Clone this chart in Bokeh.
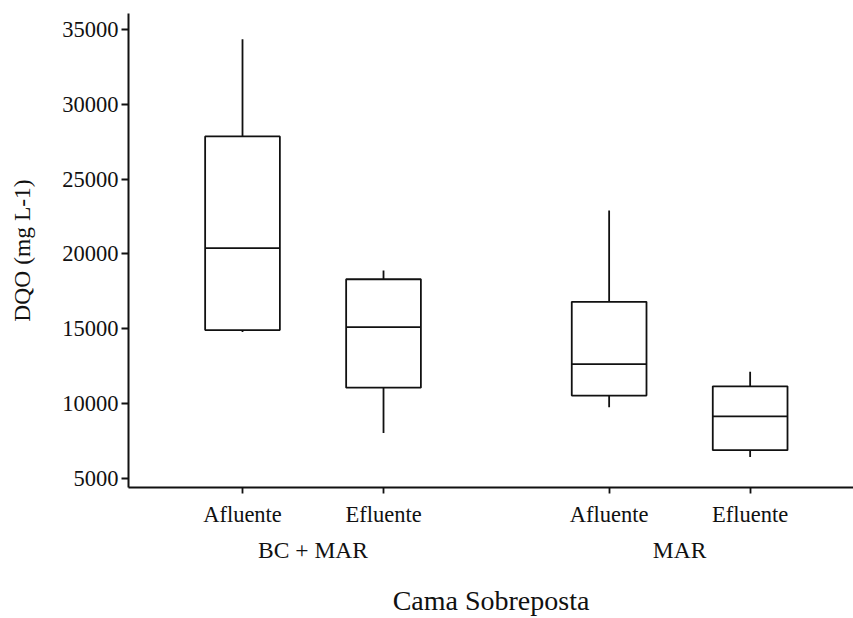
import numpy as np
from bokeh.plotting import figure
from bokeh.models import Range1d, LinearAxis, FixedTicker, NumeralTickFormatter, ColumnDataSource
from bokeh.embed import file_html
from bokeh.resources import INLINE

# ---- data ----
groups = ["BC + MAR", "MAR"]
subgroups = ["Afluente", "Efluente"]
whisker_low = [14780, 8030, 9750, 6420]
q1 = [14910, 11060, 10530, 6880]
median = [20390, 15110, 12630, 9140]
q3 = [27860, 18310, 16800, 11150]
whisker_high = [34360, 18890, 22900, 12120]
y_ticks = [5000, 10000, 15000, 20000, 25000, 30000, 35000]

# ---- layout helpers ----
GROUP_STEP = 2.6
BOX_W = 0.53
FONT = "Liberation Serif"

positions = []
labels = []
for gi, g in enumerate(groups):
    for si, s in enumerate(subgroups):
        positions.append(1 + gi * GROUP_STEP + si)
        labels.append(s)
group_centers = [1 + gi * GROUP_STEP + (len(subgroups) - 1) / 2 for gi in range(len(groups))]

pos = np.array(positions)
src = ColumnDataSource(dict(
    x=pos, lo=whisker_low, q1=q1, med=median, q3=q3, hi=whisker_high,
    xl=pos - BOX_W / 2, xr=pos + BOX_W / 2,
))

p = figure(width=853, height=618, output_backend="svg", toolbar_location=None,
           x_range=Range1d(0.1915, 5.333), y_range=Range1d(4385, 36080),
           min_border_left=128, min_border_right=0, min_border_top=13, min_border_bottom=127)
p.outline_line_color = None
p.xgrid.visible = False
p.ygrid.visible = False
p.background_fill_color = "white"
p.border_fill_color = "white"

LW = 1.8
COL = "#111111"

# whiskers
p.segment(x0="x", y0="q3", x1="x", y1="hi", source=src, line_color=COL, line_width=LW)
p.segment(x0="x", y0="lo", x1="x", y1="q1", source=src, line_color=COL, line_width=LW)
# boxes
p.vbar(x="x", width=BOX_W, bottom="q1", top="q3", source=src,
       fill_color="white", line_color=COL, line_width=LW)
# medians
p.segment(x0="xl", y0="med", x1="xr", y1="med", source=src, line_color=COL, line_width=LW)

# y axis
ya = p.yaxis[0]
ya.ticker = FixedTicker(ticks=y_ticks)
ya.formatter = NumeralTickFormatter(format="0")
ya.minor_tick_line_color = None
ya.major_tick_in = 0
ya.major_tick_out = 7
ya.major_label_standoff = 3
ya.major_label_text_font = FONT
ya.major_label_text_font_size = "22.5px"
ya.major_label_text_color = COL
ya.axis_line_color = COL
ya.axis_line_width = 2
ya.major_tick_line_color = COL
ya.major_tick_line_width = 1.8
ya.axis_label = "DQO (mg L-1)"
ya.axis_label_text_font = FONT
ya.axis_label_text_font_style = "normal"
ya.axis_label_text_font_size = "23.5px"
ya.axis_label_text_color = COL
ya.axis_label_standoff = 24

# x axis (sub categories)
xa = p.xaxis[0]
xa.ticker = FixedTicker(ticks=positions)
xa.major_label_overrides = {float(x): l for x, l in zip(positions, labels)}
xa.minor_tick_line_color = None
xa.major_tick_in = 0
xa.major_tick_out = 6
xa.major_label_standoff = 8
xa.major_label_text_font = FONT
xa.major_label_text_font_size = "22.5px"
xa.major_label_text_color = COL
xa.axis_line_color = COL
xa.axis_line_width = 2
xa.major_tick_line_color = COL
xa.major_tick_line_width = 1.8

# group axis
ga = LinearAxis(ticker=FixedTicker(ticks=group_centers))
ga.major_label_overrides = {float(x): g for x, g in zip(group_centers, groups)}
ga.axis_line_color = None
ga.major_tick_line_color = None
ga.minor_tick_line_color = None
ga.major_tick_in = 0
ga.major_tick_out = 0
ga.major_label_standoff = 7
ga.major_label_text_font = FONT
ga.major_label_text_font_size = "23.5px"
ga.major_label_text_color = COL
ga.axis_label = "Cama Sobreposta"
ga.axis_label_text_font = FONT
ga.axis_label_text_font_style = "normal"
ga.axis_label_text_font_size = "28px"
ga.axis_label_text_color = COL
ga.axis_label_standoff = 19
p.add_layout(ga, "below")

open("out.html", "w").write(file_html(p, INLINE))
